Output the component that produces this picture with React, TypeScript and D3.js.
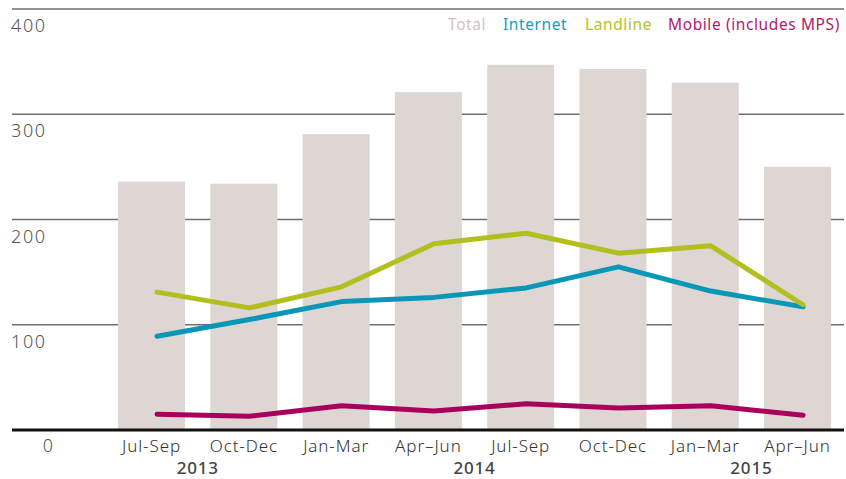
import React from "react";
import * as d3 from "d3";

const quarters = ["Jul-Sep", "Oct-Dec", "Jan-Mar", "Apr–Jun", "Jul-Sep", "Oct-Dec", "Jan–Mar", "Apr–Jun"];
const years = [
  { label: "2013", from: 0, to: 1 },
  { label: "2014", from: 3, to: 4 },
  { label: "2015", from: 6, to: 7 },
];
const total = [236, 234, 281, 321, 347, 343, 330, 250];
const internet = [89, 105, 122, 126, 135, 155, 132, 117];
const landline = [131, 116, 136, 177, 187, 168, 175, 119];
const mobile = [15, 13, 23, 18, 25, 21, 23, 14];
const yTicks = [100, 200, 300, 400];

const series = [
  { name: "Internet", values: internet, color: "#0a96b6" },
  { name: "Landline", values: landline, color: "#b3be1f" },
  { name: "Mobile (includes MPS)", values: mobile, color: "#a8005c" },
];
const legend = [
  { name: "Total", color: "#cdc4c1" },
  { name: "Internet", color: "#1a9bc0" },
  { name: "Landline", color: "#b5c224" },
  { name: "Mobile (includes MPS)", color: "#b2196a" },
];
const legendX = [448, 503, 585, 668];

const W = 846;
const H = 479;
const FONT = "'Noto Sans', 'Open Sans', sans-serif";

export default function App() {
  const keys = quarters.map((_, i) => String(i));
  const x = d3.scaleBand().domain(keys).range([105.4, 843.7]).paddingInner(0.274).paddingOuter(0.137);
  const y = d3.scaleLinear().domain([0, 400]).range([430, 9]);
  const cx = (i: number) => (x(String(i)) ?? 0) + x.bandwidth() / 2;

  const line = d3
    .line<number>()
    .x((_, i) => cx(i) + 5.5)
    .y((d) => y(d));

  return (
    <svg width={W} height={H} style={{ position: "absolute", left: 0, top: 0 }} fontFamily={FONT}>
      <rect width={W} height={H} fill="#fff" />
      {yTicks.map((t) => (
        <g key={t}>
          <line x1={12} x2={844} y1={y(t)} y2={y(t)} stroke="#6f6f6f" strokeWidth={1.6} />
          <text x={11} y={y(t) + 23} fontSize={18} fill="#555" fontWeight={300} letterSpacing={1.6}>
            {t}
          </text>
        </g>
      ))}
      <text x={48} y={452} fontSize={18} fill="#555" textAnchor="middle" fontWeight={300}>
        0
      </text>
      {total.map((v, i) => (
        <rect key={i} x={x(String(i))} width={x.bandwidth()} y={y(v)} height={y(0) - y(v)} fill="#ddd6d3" />
      ))}
      <line x1={12} x2={844} y1={y(0)} y2={y(0)} stroke="#111" strokeWidth={3} />
      {series.map((s) => (
        <path
          key={s.name}
          d={line(s.values) ?? ""}
          fill="none"
          stroke={s.color}
          strokeWidth={5}
          strokeLinejoin="round"
          strokeLinecap="round"
        />
      ))}
      {quarters.map((q, i) => (
        <text
          key={i}
          x={cx(i)}
          y={452}
          fontSize={17}
          fill="#333"
          fontWeight={300}
          textAnchor="middle"
          letterSpacing={0.9}
        >
          {q}
        </text>
      ))}
      {years.map((yr) => (
        <text
          key={yr.label}
          x={(cx(yr.from) + cx(yr.to)) / 2}
          y={474}
          fontSize={17}
          fill="#444"
          fontWeight={500}
          textAnchor="middle"
          letterSpacing={0.8}
        >
          {yr.label}
        </text>
      ))}
      {legend.map((l, i) => (
        <text key={l.name} x={legendX[i]} y={30} fontSize={15.5} fill={l.color} letterSpacing={0.6}>
          {l.name}
        </text>
      ))}
    </svg>
  );
}
